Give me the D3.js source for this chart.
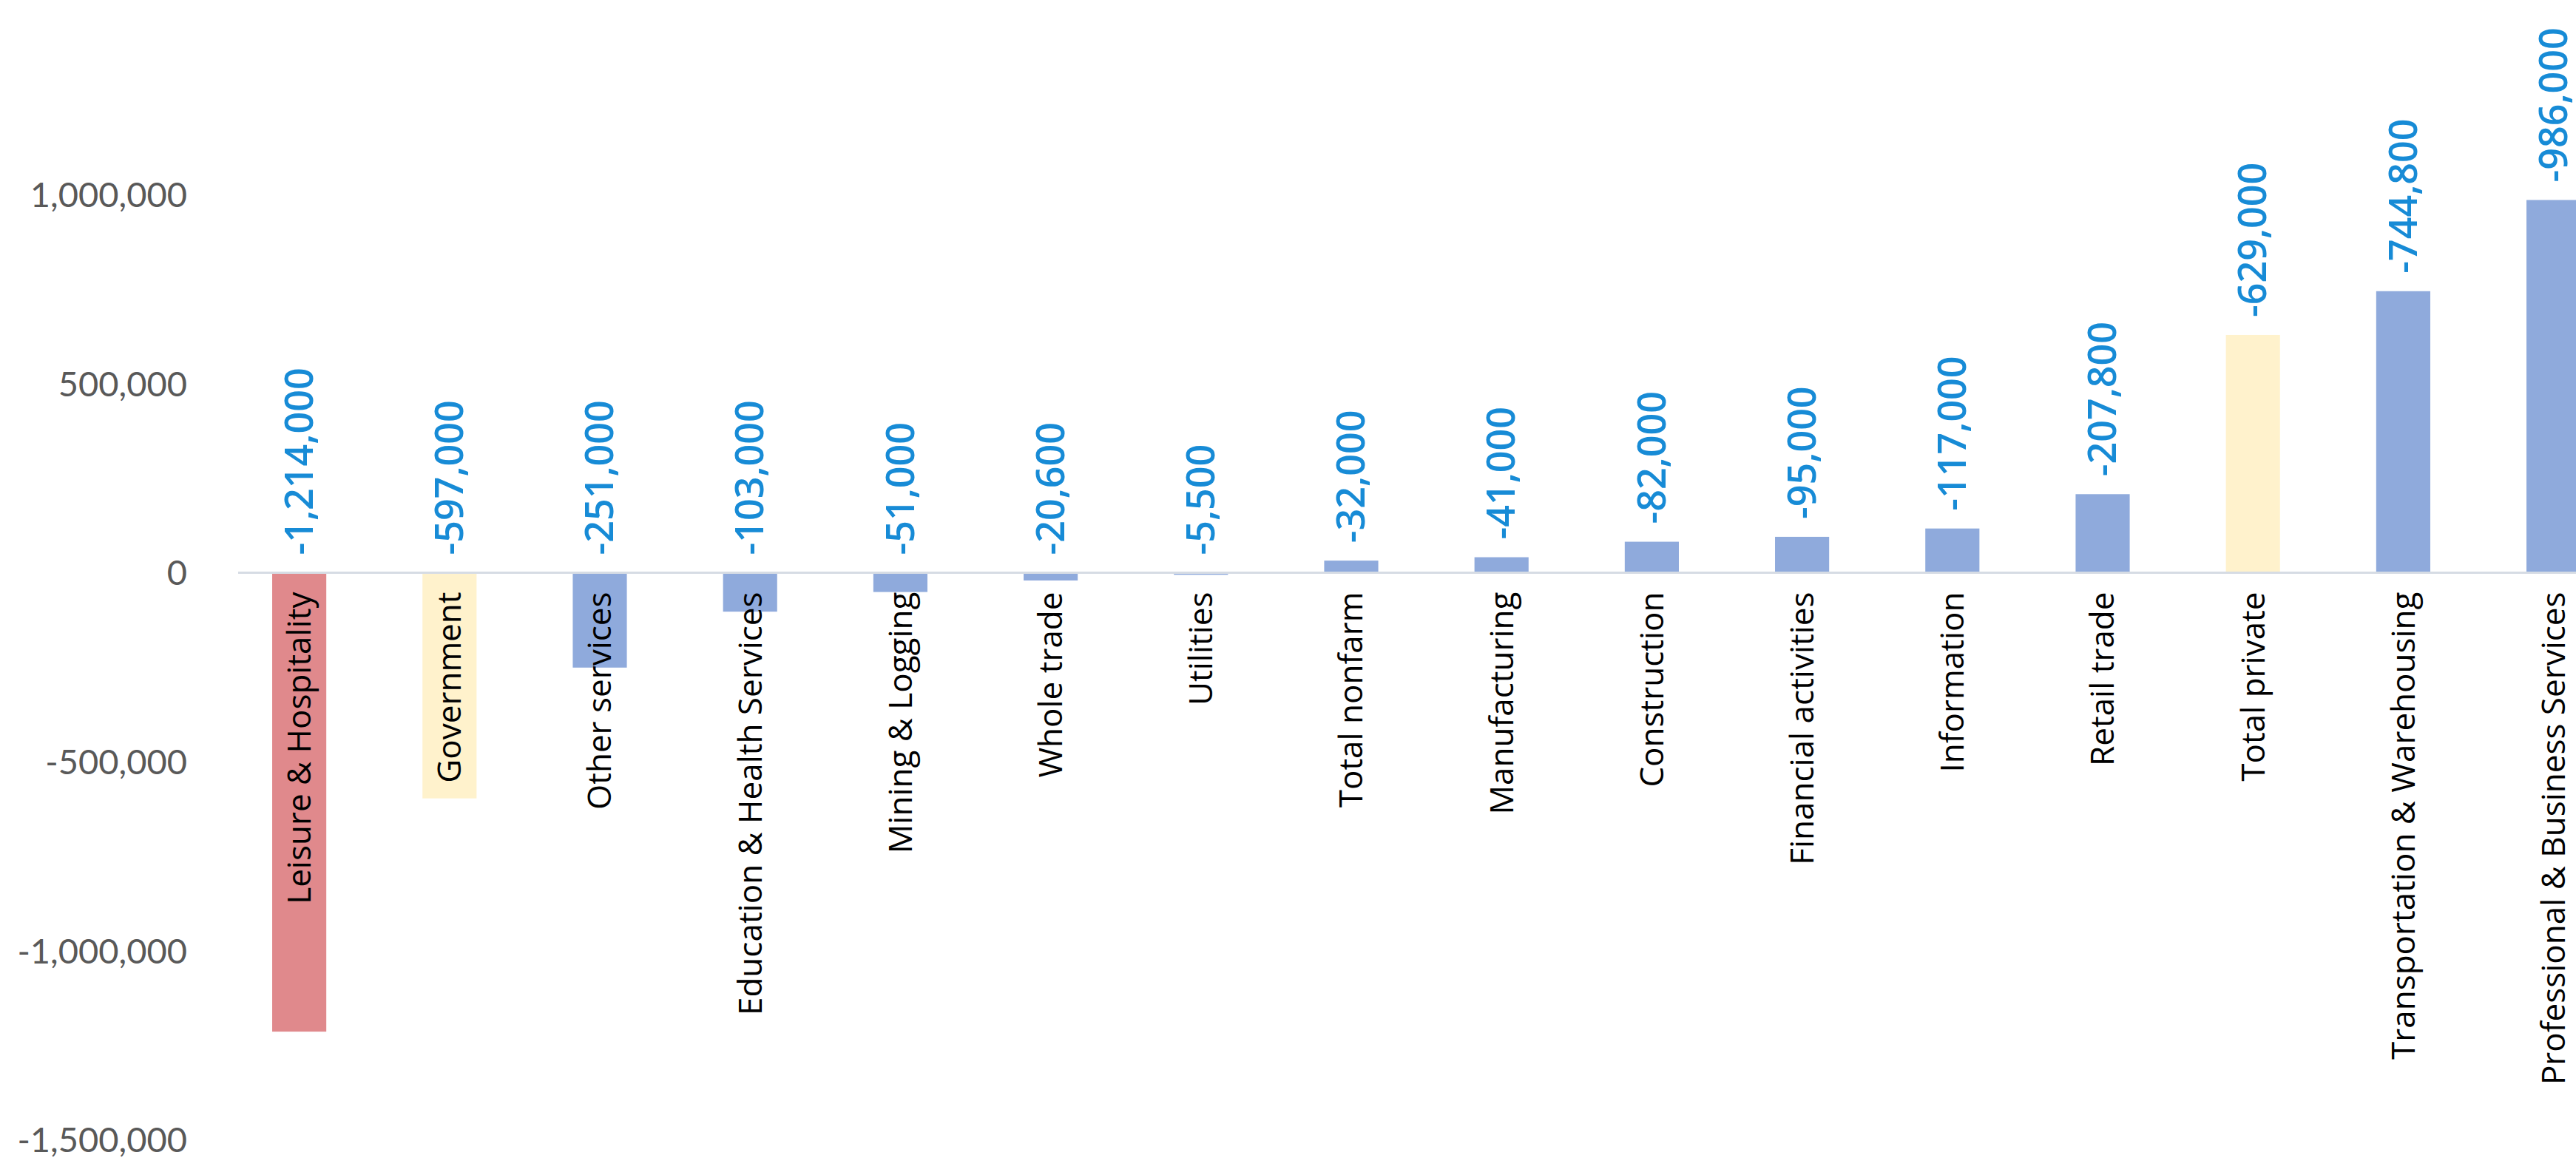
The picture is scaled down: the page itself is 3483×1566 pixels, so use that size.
<!DOCTYPE html>
<html>
<head>
<meta charset="utf-8">
<script src="https://cdn.jsdelivr.net/npm/d3@7"></script>
<style>
  html, body { margin: 0; padding: 0; background: #ffffff; }
  svg { display: block; }
</style>
</head>
<body>
<svg id="chart" width="3483" height="1566"></svg>
<script>
// Employment change by industry
const categories = [
  "Leisure & Hospitality", "Government", "Other services",
  "Education & Health Services", "Mining & Logging", "Whole trade",
  "Utilities", "Total nonfarm", "Manufacturing", "Construction",
  "Financial activities", "Information", "Retail trade",
  "Total private", "Transportation & Warehousing",
  "Professional & Business Services"
];
const values = [
  -1214000, -597000, -251000, -103000, -51000, -20600, -5500,
  32000, 41000, 82000, 95000, 117000, 207800, 629000, 744800, 986000
];
const yTicks = [-1500000, -1000000, -500000, 0, 500000, 1000000];
const yDomain = [-1500000, 1500000];

// fill colours
const fillFor = {
  "Leisure & Hospitality": "#E0898C",
  "Government": "#FFF2CC",
  "Total private": "#FFF2CC"
};
const baseFill = "#8FAADC";

const W = 3483, H = 1566;
const svg = d3.select("#chart");
svg.append("rect").attr("width", W).attr("height", H).attr("fill", "#ffffff");

const x = d3.scaleBand()
  .domain(categories)
  .range([303, 303 + 16 * 203.2])
  .paddingInner(0.64)
  .paddingOuter(0.32);

const y = d3.scaleLinear().domain(yDomain).range([1541.3, 7.7]);

// plain hyphen for negatives
const comma = d3.format(",");
const tickText = v => (v < 0 ? "-" : "") + comma(Math.abs(v));
// value labels use the "-#,##0" number format
const labelText = v => "-" + comma(Math.abs(v));

// y axis tick labels
const yAxis = d3.axisLeft(y)
  .tickValues(yTicks)
  .tickFormat(tickText)
  .tickSize(0)
  .tickPadding(0);
const gy = svg.append("g").attr("transform", "translate(253,0)").call(yAxis);
gy.select(".domain").remove();
gy.selectAll("text")
  .attr("font-family", "Lato, 'Open Sans', sans-serif")
  .attr("font-size", 47)
  .attr("fill", "#595959")
  .attr("dy", "0.35em");

// bars
const dataRows = categories.map((c, i) => ({ c, v: values[i] }));
svg.append("g").selectAll("rect")
  .data(dataRows)
  .join("rect")
  .attr("x", d => x(d.c))
  .attr("width", x.bandwidth())
  .attr("y", d => y(Math.max(0, d.v)))
  .attr("height", d => Math.abs(y(d.v) - y(0)))
  .attr("fill", d => fillFor[d.c] || baseFill);

// zero line
svg.append("line")
  .attr("x1", 322).attr("x2", W)
  .attr("y1", y(0)).attr("y2", y(0))
  .attr("stroke", "#D6DCE4")
  .attr("stroke-width", 3);

// category labels, rotated, hanging from the axis
const maxLabelLen = 681;
svg.append("g").selectAll("text")
  .data(dataRows)
  .join("text")
  .attr("transform", d => `translate(${x(d.c) + x.bandwidth() / 2},${y(0) + 26}) rotate(-90)`)
  .attr("text-anchor", "end")
  .attr("dy", "0.35em")
  .attr("font-family", "'Open Sans', sans-serif")
  .attr("font-size", 44)
  .attr("fill", "#000000")
  .text(d => d.c)
  .each(function () {
    if (this.getComputedTextLength() > maxLabelLen) {
      d3.select(this)
        .attr("textLength", maxLabelLen)
        .attr("lengthAdjust", "spacingAndGlyphs");
    }
  });

// value labels above each bar
svg.append("g").selectAll("text")
  .data(dataRows)
  .join("text")
  .attr("transform", d => `translate(${x(d.c) + x.bandwidth() / 2},${y(Math.max(0, d.v)) - 24}) rotate(-90)`)
  .attr("text-anchor", "start")
  .attr("dy", "0.35em")
  .attr("font-family", "'Open Sans', sans-serif")
  .attr("font-weight", 600)
  .attr("font-size", 52)
  .attr("fill", "#178BD6")
  .text(d => labelText(d.v));
</script>
</body>
</html>
